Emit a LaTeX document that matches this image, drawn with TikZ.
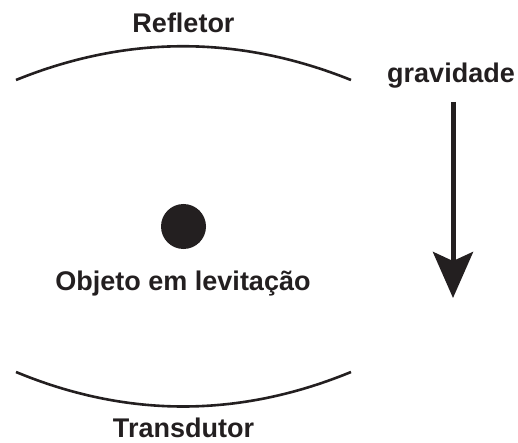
\documentclass[tikz,border=0pt]{standalone}
\usepackage{fontspec}
\setmainfont{Liberation Sans}
\usepackage{tikz}
\usetikzlibrary{
    arrows.meta,
    positioning
}
\definecolor{ink}{HTML}{231F20}

\begin{document}
\begin{tikzpicture}[x=1pt,y=-1pt,
    label/.style={font=\fontsize{27}{32}\selectfont\bfseries, text=ink, inner sep=0pt, text depth=0pt},
    plate/.style={draw=ink, line width=2.6pt}]

\useasboundingbox (0,0) rectangle (518,443);

% Reflector (top plate)
\draw[plate] (16,80) .. controls (127,35) and (239,35) .. (351,80);
\node[label, anchor=base] (refl) at (183.5,33) {Refletor};

% Transducer (bottom plate)
\draw[plate] (16,372) .. controls (127,418) and (239,418) .. (351,372);
\node[label, anchor=base] (trans) at (183.5,437) {Transdutor};

% Levitated object
\node[circle, fill=ink, minimum size=45pt, inner sep=0pt] (obj) at (183.5,226.5) {};
\node[label, anchor=base] (objlab) at (183,290) {Objeto em levitação};

% Gravity arrow
\node[label, anchor=base] (grav) at (451,83) {gravidade};
\coordinate (gtop) at (453,102);
\coordinate (gbot) at (453,298);
\draw[ink, line width=5pt, -{Stealth[length=46pt, width=40pt, inset=9pt]}] (gtop) -- (gbot);

\end{tikzpicture}
\end{document}
